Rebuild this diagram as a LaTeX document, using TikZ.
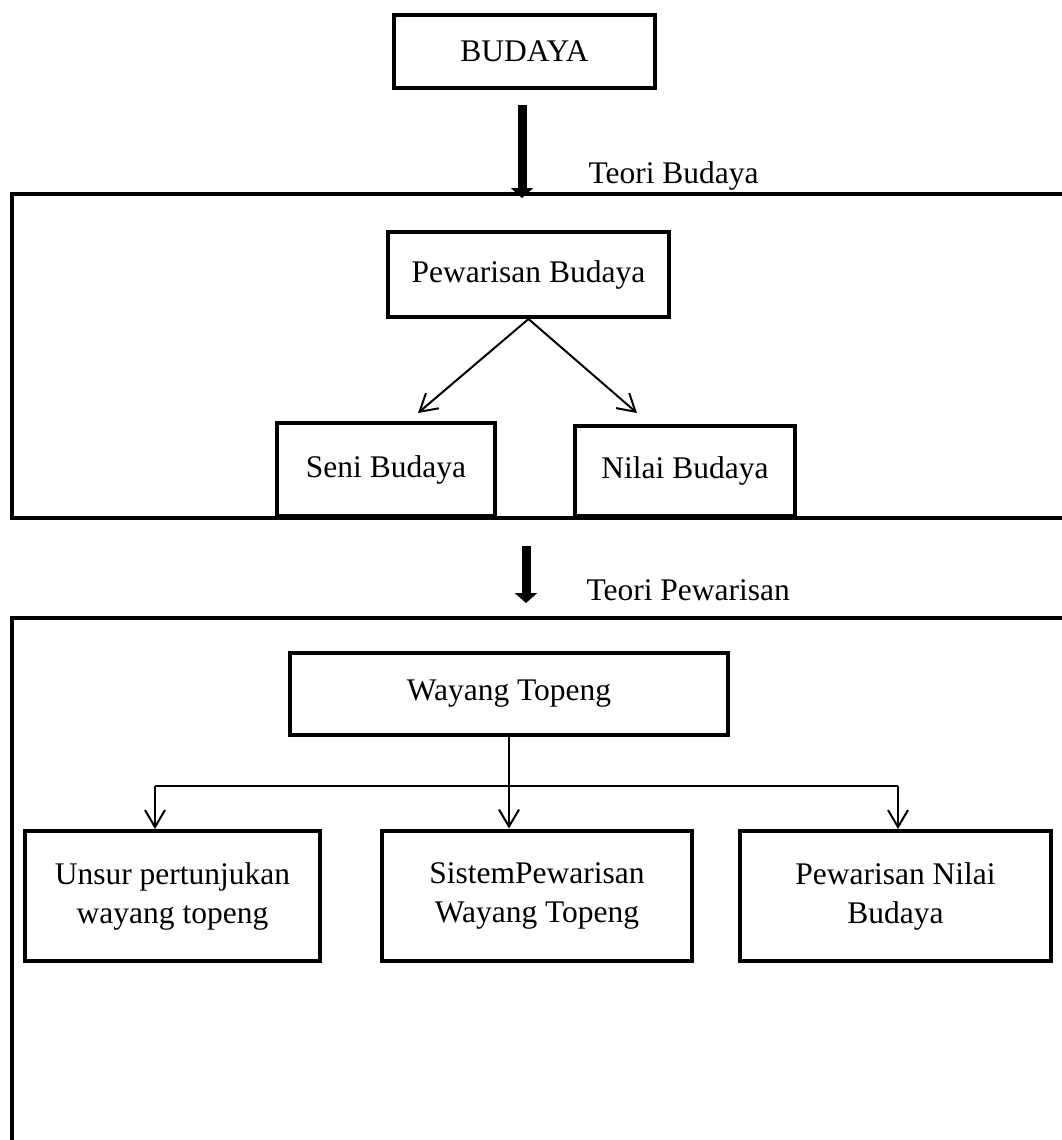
\documentclass[tikz,border=0pt]{standalone}
\usepackage{fontspec}
\setmainfont{Liberation Serif}
\usetikzlibrary{arrows.meta}

\begin{document}
\begin{tikzpicture}[x=0.4pt, y=-0.4pt,
    kotak/.style={draw, line width=1.6pt, align=center, inner sep=0pt,
      font=\fontsize{12.6}{15.6}\selectfont},
    bingkai/.style={line width=1.6pt, line join=miter},
    garis/.style={line width=0.8pt},
    panah/.style={garis, -{Straight Barb[length=6.8pt, width=8pt, line width=0.8pt]}},
    panahtebal/.style={line width=3.6pt, -{Triangle[width=8.8pt, length=4pt]}},
    teks/.style={anchor=base west, inner sep=0pt, font=\fontsize{12.6}{15.6}\selectfont}]
    \useasboundingbox (0,0) rectangle (1061,1140);

    % Define coordinates
    \coordinate (pangkalA) at (522,105);
    \coordinate (ujungA) at (522,198);
    \coordinate (pangkalB) at (526,546);
    \coordinate (ujungB) at (526,603);
    \coordinate (tujuanSeni) at (418,413);
    \coordinate (tujuanNilai) at (637,413);
    \coordinate (simpang) at (511,786);
    \coordinate (cabangKiri) at (155,786);
    \coordinate (cabangKanan) at (898,786);

    % Frames (open to the right)
    \draw[bingkai] (1065,194) -- (12,194) -- (12,518) -- (1065,518);
    \draw[bingkai] (1065,618) -- (12,618) -- (12,1145);

    % Boxes
    \node[kotak, minimum width=104.4pt, minimum height=29.2pt] (budaya) at (524.5,51.5) {BUDAYA};
    \node[kotak, minimum width=112.4pt, minimum height=34pt] (pewarisanB) at (528.5,274.5) {Pewarisan Budaya};
    \node[kotak, minimum width=87.4pt, minimum height=37.2pt] (seni) at (386,469.5) {Seni Budaya};
    \node[kotak, minimum width=88pt, minimum height=36pt] (nilai) at (685,471) {Nilai Budaya};
    \node[kotak, minimum width=175.2pt, minimum height=32.8pt] (wayang) at (509,694) {Wayang Topeng};
    \node[kotak, minimum width=118pt, minimum height=52pt] (unsur) at (172.5,896) {Unsur pertunjukan\\wayang topeng};
    \node[kotak, minimum width=124pt, minimum height=52pt] (sistem) at (537,895.5) {SistemPewarisan\\Wayang Topeng};
    \node[kotak, minimum width=124.4pt, minimum height=52pt] (nilaiP) at (895.5,896) {Pewarisan Nilai\\Budaya};

    % Thick arrows
    \draw[panahtebal] (pangkalA) -- (ujungA);
    \draw[panahtebal] (pangkalB) -- (ujungB);

    % Labels
    \node[teks] (teoriB) at (588,183) {Teori Budaya};
    \node[teks] (teoriP) at (586,600) {Teori Pewarisan};

    % Connectors
    \draw[panah] (pewarisanB.south) -- (tujuanSeni);
    \draw[panah] (pewarisanB.south) -- (tujuanNilai);
    \draw[garis] (wayang.south) -- (wayang.south |- simpang);
    \draw[garis] (cabangKiri) -- (cabangKanan);
    \draw[panah] (cabangKiri) -- (cabangKiri |- unsur.north);
    \draw[panah] (wayang.south |- simpang) -- (wayang.south |- sistem.north);
    \draw[panah] (cabangKanan) -- (cabangKanan |- nilaiP.north);
\end{tikzpicture}
\end{document}
